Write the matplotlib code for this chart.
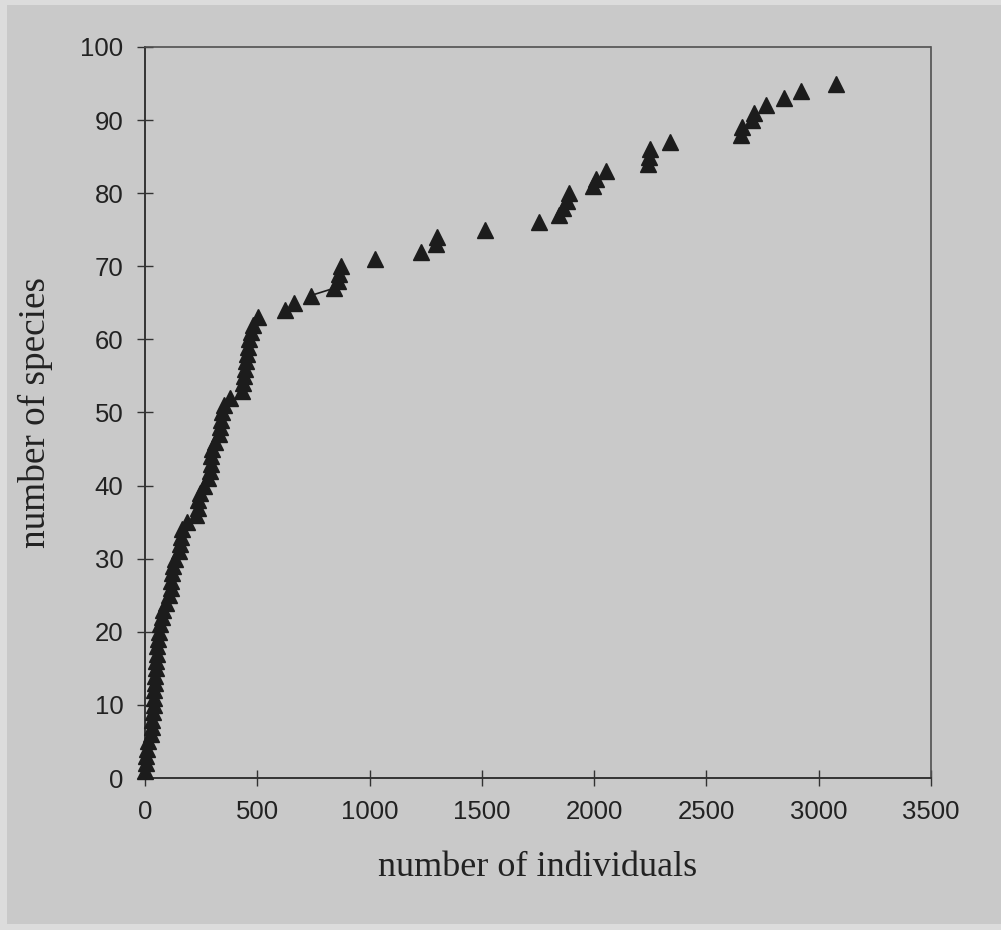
import numpy as np
import matplotlib.pyplot as plt
from matplotlib.patches import Rectangle

# Species accumulation: cumulative individuals needed to reach each species count
species = np.arange(1, 96)
individuals = [
    2, 4, 6, 9, 12, 25, 30, 33, 36, 38,
    40, 42, 44, 46, 48, 50, 52, 55, 58, 62,
    68, 74, 80, 95, 108, 114, 118, 122, 126, 135,
    150, 156, 160, 166, 185, 228, 234, 238, 244, 262,
    282, 288, 292, 296, 300, 312, 330, 334, 338, 342,
    352, 380, 432, 436, 440, 444, 448, 452, 458, 462,
    470, 482, 505, 625, 662, 738, 842, 860, 866, 872,
    1022, 1230, 1295, 1302, 1512, 1755, 1845, 1862, 1878, 1888,
    1995, 2010, 2055, 2240, 2245, 2250, 2338, 2655, 2660, 2705,
    2712, 2765, 2845, 2922, 3075,
]

x_ticks = np.arange(0, 3501, 500)
y_ticks = np.arange(0, 101, 10)

bg = '#c9c9c9'
ink = '#1c1c1c'

fig = plt.figure(figsize=(10.01, 9.30), dpi=100, facecolor='#dcdcdc')
# scanned page grey inside a thin lighter margin
fig.patches.append(Rectangle((7 / 1001, 6 / 930), 994 / 1001, 919 / 930,
                             transform=fig.transFigure, facecolor=bg,
                             edgecolor='none', zorder=-10))

ax = fig.add_axes([145 / 1001, 1 - 778 / 930, (931 - 145) / 1001, (778 - 47) / 930])
ax.set_facecolor(bg)

ax.plot(individuals, species, linestyle='none', marker='^', markersize=11,
        color=ink, clip_on=False, zorder=5)
# short connector drawn between species 66 and 67
ax.plot(individuals[65:67], species[65:67], color=ink, linewidth=1.2, zorder=4)

ax.set_xlim(0, 3500)
ax.set_ylim(0, 100)
ax.set_xticks(x_ticks)
ax.set_yticks(y_ticks)

tick_font = {'family': 'Liberation Sans', 'size': 18.5}
ax.set_xticklabels([str(t) for t in x_ticks], fontdict=tick_font, color='#222222')
ax.set_yticklabels([str(t) for t in y_ticks], fontdict=tick_font, color='#222222')
ax.tick_params(direction='inout', length=11, width=1, color='#333333', pad=10)

for side in ['left', 'bottom']:
    ax.spines[side].set_color('#333333')
    ax.spines[side].set_linewidth(1.4)
for side in ['top', 'right']:
    ax.spines[side].set_color('#505050')
    ax.spines[side].set_linestyle((0, (1, 1)))
    ax.spines[side].set_linewidth(1.2)

label_font = {'family': 'Liberation Serif', 'size': 26}
ax.set_xlabel('number of individuals', fontdict=label_font, color='#222222', labelpad=20)
ax.set_ylabel('number of species', fontdict={**label_font, 'size': 26.8},
              color='#222222', labelpad=20)

fig.savefig('out.png', dpi=100, facecolor=fig.get_facecolor())
